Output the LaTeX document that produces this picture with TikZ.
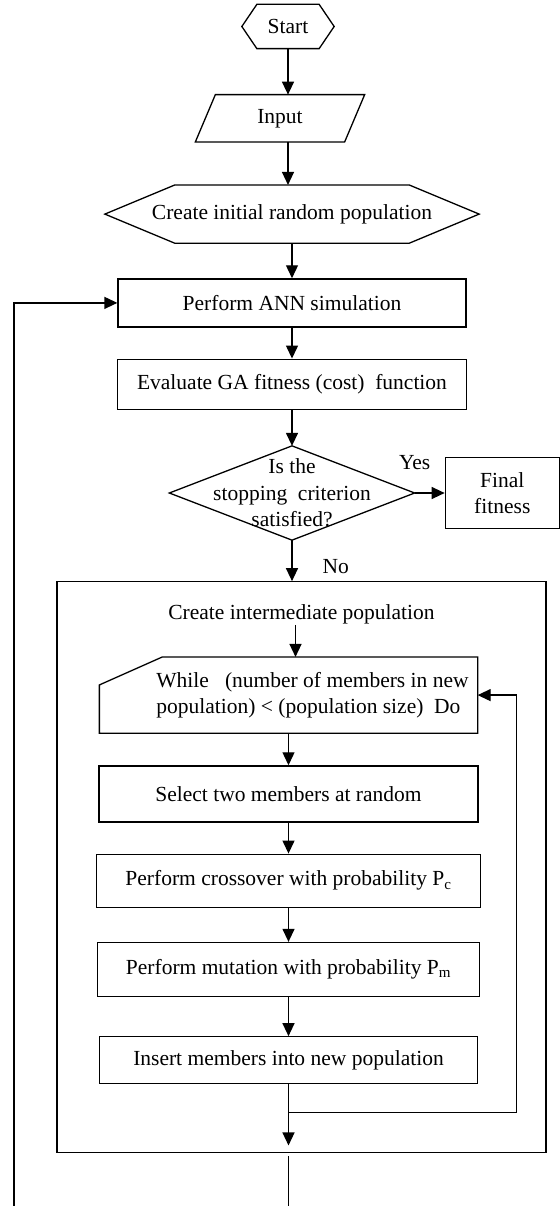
\documentclass[tikz,border=0pt]{standalone}
\usepackage{fontspec}
\setmainfont{Liberation Serif}
\usepackage{tikz}
\usetikzlibrary{positioning}
\usetikzlibrary{arrows.meta}

\begin{document}
\begin{tikzpicture}[x=1pt,y=1pt,
      font=\fontsize{21.5}{26.5}\selectfont,
      line width=1.3pt,
      box style/.style={rectangle,draw=black,align=center,inner sep=0pt},
      shape style/.style={rectangle,align=center,inner sep=0pt},
      lbl style/.style={inner sep=0pt},
      flow/.style={-{Triangle[length=13pt,width=12pt]}}
      ]
      \useasboundingbox (0,0) rectangle (559,-1206);

      \node[shape style, minimum width=91pt, minimum height=43pt] (start) at (288,-26.5) {Start};
      \node[shape style, below=46pt of start, xshift=-8pt, minimum width=148pt, minimum height=46pt] (input) {Input};
      \node[shape style, below=43pt of input, xshift=12pt, minimum width=373pt, minimum height=57pt] (create) {Create initial random population};

      \draw (start.west) -- ([xshift=15pt]start.north west) -- ([xshift=-15pt]start.north east)
        -- (start.east) -- ([xshift=-15pt]start.south east) -- ([xshift=15pt]start.south west) -- cycle;
      \draw ([xshift=10pt]input.north west) -- ([xshift=10pt]input.north east)
        -- ([xshift=-10pt]input.south east) -- ([xshift=-10pt]input.south west) -- cycle;
      \draw (create.west) -- ([xshift=70pt]create.north west) -- ([xshift=-70pt]create.north east)
        -- (create.east) -- ([xshift=-70pt]create.south east) -- ([xshift=70pt]create.south west) -- cycle;

      \node[box style, below=35pt of create, minimum width=348pt, minimum height=48pt] (ann) {Perform ANN simulation};
      \node[box style, below=31pt of ann, minimum width=349pt, minimum height=50pt] (eval) {Evaluate GA fitness (cost)\ \ function};

      \node[shape style, below=36pt of eval, minimum width=244pt, minimum height=93pt] (decide) {Is the\\stopping\ \ criterion\\satisfied?};
      \draw (decide.north) -- (decide.east) -- (decide.south) -- (decide.west) -- cycle;
      \node[box style, right=30pt of decide, minimum width=114pt, minimum height=71pt] (final) {Final\\fitness};
      \node[lbl style, above=23pt of decide.east] (yes) {Yes};
      \node[lbl style, below right=19pt and 30pt of decide.south] (no) {No};

      \draw[flow] (start.south) -- (start.south |- input.north);
      \draw[flow] (input.south -| start.south) -- (start.south |- create.north);
      \draw[flow] (create) -- (ann);
      \draw[flow] (ann) -- (eval);
      \draw[flow] (eval) -- (decide);
      \draw[flow] (decide) -- (final);

      % intermediate population loop
      \node[box style, below=41pt of decide, xshift=9.5pt, minimum width=489pt, minimum height=571pt] (frame) {};
      \draw[flow] (decide) -- (decide |- frame.north);

      \node[lbl style, below=23pt of frame.north] (midtext) {Create intermediate population};
      \node[shape style, below=32pt of midtext, xshift=-13pt, minimum width=377pt, minimum height=75pt, align=left] (while)
        {\hspace*{48pt}While\ \ \ (number of members in new\\\hspace*{48pt}population) < (population size)\ \ Do};
      \draw (while.north east) -- (while.south east) -- (while.south west)
        -- ([yshift=-28pt]while.north west) -- ([xshift=63pt]while.north west) -- cycle;

      \node[box style, below=32pt of while, minimum width=379pt, minimum height=56pt] (select) {Select two members at random};
      \node[box style, below=31pt of select, minimum width=384pt, minimum height=53pt] (cross) {Perform crossover with\ probability P\textsubscript{c}};
      \node[box style, below=34pt of cross, minimum width=382pt, minimum height=54pt] (mut) {Perform mutation with\ probability P\textsubscript{m}};
      \node[box style, below=39pt of mut, minimum width=378pt, minimum height=47pt] (insert) {Insert members into new population};

      \draw[flow] ([xshift=-6pt]midtext.south) -- ([xshift=-6pt]midtext.south |- while.north);
      \draw[flow] (while) -- (select);
      \draw[flow] (select) -- (cross);
      \draw[flow] (cross) -- (mut);
      \draw[flow] (mut) -- (insert);
      \draw[flow] (insert.south) -- ([yshift=8pt]frame.south -| insert.south);

      \coordinate (split) at ([yshift=-28pt]insert.south);
      \draw[flow] (split) -- ++(228,0) |- (while.east);

      % back to simulation
      \coordinate (exit) at ([yshift=-61pt]frame.south -| insert.south);
      \draw ([yshift=-3pt]frame.south -| insert.south) -- (exit);
      \coordinate (back) at (14,-1206);
      \draw[flow] (back) |- (ann.west);

    \end{tikzpicture}
\end{document}
